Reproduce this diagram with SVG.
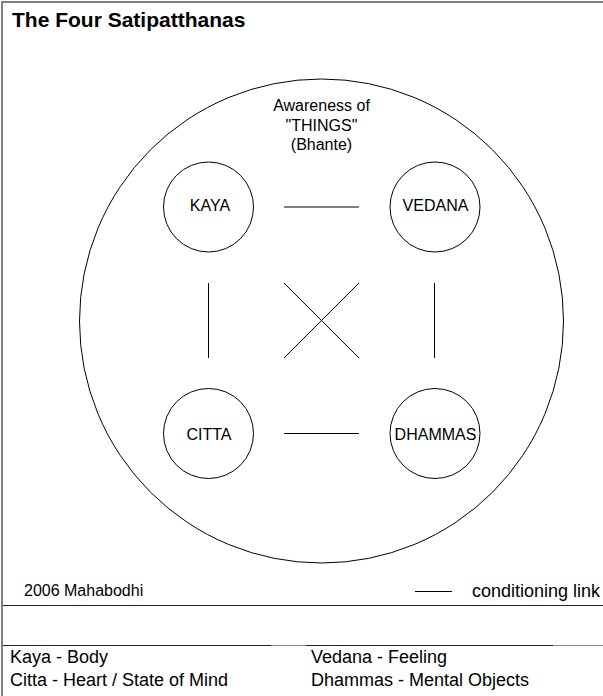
<svg xmlns="http://www.w3.org/2000/svg" width="603" height="696" viewBox="0 0 603 696">
  <style>
    text { font-family: "Liberation Sans", Arial, sans-serif; fill: #000; }
    .title { font-size: 21px; font-weight: bold; }
    .lbl { font-size: 16px; text-anchor: middle; }
    .note { font-size: 16px; }
    .key { font-size: 18px; }
    .ring { fill: none; stroke: #000; stroke-width: 1; }
    .link { stroke: #000; stroke-width: 1; fill: none; }
    .frame { stroke: #808080; stroke-width: 2; fill: none; }
    .rule { stroke: #222; stroke-width: 1; }
    .rule-light { stroke: #8c8c8c; stroke-width: 1; }
  </style>

  <rect x="0" y="0" width="603" height="696" fill="#fff"/>

  <!-- page frame: top and left edges -->
  <path class="frame" d="M603 2 H2 V696"/>

  <text class="title" x="12" y="27">The Four Satipatthanas</text>

  <!-- outer field of awareness -->
  <g id="awareness">
    <circle class="ring" cx="321.5" cy="321" r="242"/>
    <text class="lbl" x="321.5" y="111">Awareness of</text>
    <text class="lbl" x="321.5" y="130.5">"THINGS"</text>
    <text class="lbl" x="321.5" y="150">(Bhante)</text>
  </g>

  <g id="kaya">
    <circle class="ring" cx="208.5" cy="207" r="45"/>
    <text class="lbl" x="210" y="210.5">KAYA</text>
  </g>
  <g id="vedana">
    <circle class="ring" cx="435" cy="207" r="45"/>
    <text class="lbl" x="435.5" y="210.5">VEDANA</text>
  </g>
  <g id="citta">
    <circle class="ring" cx="208.5" cy="433.5" r="45"/>
    <text class="lbl" x="209" y="440">CITTA</text>
  </g>
  <g id="dhammas">
    <circle class="ring" cx="435" cy="433.5" r="45"/>
    <text class="lbl" x="435.5" y="440">DHAMMAS</text>
  </g>

  <!-- conditioning links between the four -->
  <g id="connectors">
    <line class="link" x1="284" y1="207" x2="359" y2="207"/>
    <line class="link" x1="284" y1="433.5" x2="359" y2="433.5"/>
    <line class="link" x1="208.5" y1="283" x2="208.5" y2="358"/>
    <line class="link" x1="434.5" y1="283" x2="434.5" y2="358"/>
    <line class="link" x1="284" y1="283" x2="359" y2="358"/>
    <line class="link" x1="359" y1="283" x2="284" y2="358"/>
  </g>

  <!-- footer -->
  <text class="note" x="24" y="595.5">2006 Mahabodhi</text>
  <g id="legend">
    <line class="link" x1="415" y1="591.5" x2="452" y2="591.5"/>
    <text class="key" x="472" y="597">conditioning link</text>
  </g>

  <line class="rule" x1="3" y1="605.5" x2="603" y2="605.5"/>
  <line class="rule" x1="3" y1="645.5" x2="271" y2="645.5"/>
  <line class="rule-light" x1="271" y1="645.5" x2="306" y2="645.5"/>
  <line class="rule" x1="306" y1="645.5" x2="553" y2="645.5"/>
  <line class="rule-light" x1="553" y1="645.5" x2="603" y2="645.5"/>

  <text class="key" x="10" y="662.5">Kaya - Body</text>
  <text class="key" x="10" y="685.5">Citta - Heart / State of Mind</text>
  <text class="key" x="311" y="662.5">Vedana - Feeling</text>
  <text class="key" x="311" y="685.5">Dhammas - Mental Objects</text>
</svg>
